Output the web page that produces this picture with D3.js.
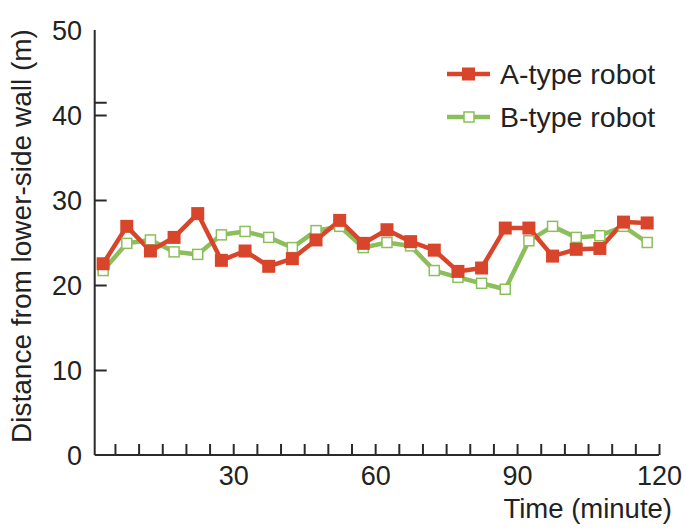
<!DOCTYPE html>
<html><head><meta charset="utf-8">
<script src="https://cdn.jsdelivr.net/npm/d3@7"></script>
<style>body{margin:0;background:#fff}svg{display:block}text{font-family:"Liberation Sans",Arial,sans-serif;fill:#222}</style>
</head><body><svg id="c" width="686" height="528"></svg>
<script>
const times = [2.5,7.5,12.5,17.5,22.5,27.5,32.5,37.5,42.5,47.5,52.5,57.5,62.5,67.5,72.5,77.5,82.5,87.5,92.5,97.5,102.5,107.5,112.5,117.5];
const seriesA = [22.5,26.9,24.0,25.6,28.4,22.9,24.0,22.2,23.1,25.3,27.6,24.9,26.5,25.1,24.1,21.6,22.0,26.7,26.7,23.4,24.2,24.3,27.4,27.3];
const seriesB = [21.7,24.9,25.3,23.9,23.6,25.9,26.3,25.6,24.4,26.4,26.9,24.4,25.0,24.6,21.7,20.9,20.2,19.5,25.2,26.9,25.6,25.8,26.9,25.0];
const seriesNames = ["A-type robot","B-type robot"];
const xTickLabels = [30,60,90,120];
const xMinorTicks = [5,10,15,20,25,30,35,40,45,50,55,60,65,70,75,80,85,90,95,100,105,110,115,120];
const yTickLabels = [0,10,20,30,40,50];
const yTickMarks = [10,20,30,40,41.5];

const svg = d3.select("#c");
const x = d3.scaleLinear().domain([0,120]).range([91.3,659]);
const y = d3.scaleLinear().domain([0,50]).range([455,30]);
const axisColor = "#2a2a2a";
const FONT = "Liberation Sans, Arial, sans-serif";

svg.append("line").attr("x1",94.7).attr("x2",94.7).attr("y1",y(50)).attr("y2",y(0)).attr("stroke",axisColor).attr("stroke-width",2);
svg.append("line").attr("x1",94.7).attr("x2",x(120)).attr("y1",y(0)).attr("y2",y(0)).attr("stroke",axisColor).attr("stroke-width",2);

const yMarks = svg.append("g").attr("transform","translate(94.7,0)")
  .call(d3.axisRight(y).tickValues(yTickMarks).tickSize(12).tickFormat(""));
yMarks.select(".domain").remove();
yMarks.selectAll("line").attr("stroke",axisColor).attr("stroke-width",2);

const yLab = svg.append("g").attr("transform","translate(82,0)")
  .call(d3.axisLeft(y).tickValues(yTickLabels).tickSize(0).tickPadding(0).tickFormat(d3.format("d")));
yLab.select(".domain").remove();
yLab.selectAll("text").attr("font-size",27).attr("font-family",FONT).attr("fill","#222").attr("dy","0.36em");

const xMarks = svg.append("g").attr("transform",`translate(0,${y(0)})`)
  .call(d3.axisTop(x).tickValues(xMinorTicks).tickSize(11).tickFormat(""));
xMarks.select(".domain").remove();
xMarks.selectAll("line").attr("stroke",axisColor).attr("stroke-width",2);

const xLab = svg.append("g").attr("transform",`translate(0,${y(0)+10})`)
  .call(d3.axisBottom(x).tickValues(xTickLabels).tickSize(0).tickPadding(0).tickFormat(d3.format("d")));
xLab.select(".domain").remove();
xLab.selectAll("text").attr("font-size",27).attr("font-family",FONT).attr("fill","#222").attr("dy","0.75em");

svg.append("text").attr("x",672).attr("y",518).attr("text-anchor","end").attr("font-size",27.5).text("Time (minute)");
svg.append("text").attr("transform","translate(31,236) rotate(-90)").attr("text-anchor","middle").attr("font-size",28).text("Distance from lower-side wall (m)");

const redC = "#d9452b", greenC = "#8cbf5b";
const line = d3.line().x((d,i)=>x(times[i])).y(d=>y(d));

svg.append("path").datum(seriesB).attr("d",line).attr("fill","none").attr("stroke",greenC).attr("stroke-width",4.5).attr("stroke-linejoin","round");
svg.append("path").datum(seriesA).attr("d",line).attr("fill","none").attr("stroke",redC).attr("stroke-width",4.5).attr("stroke-linejoin","round");
svg.selectAll(".mb").data(seriesB).enter().append("rect")
  .attr("x",(d,i)=>x(times[i])-5).attr("y",d=>y(d)-5).attr("width",10).attr("height",10)
  .attr("fill","#fff").attr("stroke",greenC).attr("stroke-width",1.5);
svg.selectAll(".ma").data(seriesA).enter().append("rect")
  .attr("x",(d,i)=>x(times[i])-6.5).attr("y",d=>y(d)-6.5).attr("width",13).attr("height",13)
  .attr("fill",redC);

const lg = [{name:seriesNames[0],c:redC,fill:redC,y:74},{name:seriesNames[1],c:greenC,fill:"#fff",y:117}];
lg.forEach(l=>{
  svg.append("line").attr("x1",447).attr("x2",490).attr("y1",l.y).attr("y2",l.y).attr("stroke",l.c).attr("stroke-width",4.5);
  if(l.fill===redC) svg.append("rect").attr("x",462).attr("y",l.y-6.5).attr("width",13).attr("height",13).attr("fill",redC);
  else svg.append("rect").attr("x",464).attr("y",l.y-5).attr("width",10).attr("height",10).attr("fill","#fff").attr("stroke",greenC).attr("stroke-width",1.5);
  svg.append("text").attr("x",500).attr("y",l.y+10).attr("font-size",28.5).text(l.name);
});
</script></body></html>
